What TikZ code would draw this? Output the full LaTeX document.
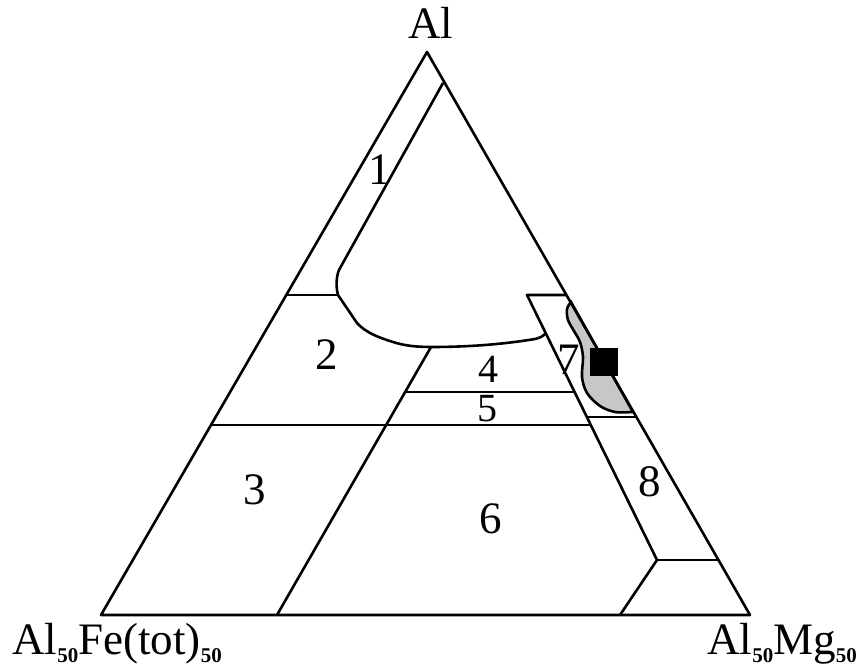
\documentclass[tikz,border=0pt]{standalone}
\usepackage{fontspec}
\setmainfont{Liberation Serif}
\newcommand\subfifty{\raisebox{-4pt}{\fontsize{10.5}{12}\selectfont\bfseries 50}}
\begin{document}
\begin{tikzpicture}[x=0.5pt,y=-0.5pt,
  edge/.style={line width=1.3pt, line join=round},
  lbl/.style={font=\fontsize{22.5}{24}\selectfont, inner sep=0pt, anchor=base},
  slbl/.style={font=\fontsize{20}{21}\selectfont, inner sep=0pt, anchor=base},
  blob/.style={line width=1.3pt, fill=black!22},
  marker/.style={fill=black, draw=black, line width=0.6pt}]
\useasboundingbox (0,0) rectangle (858,672);
% corners
\coordinate (A) at (427,52);
\coordinate (L) at (101,615);
\coordinate (R) at (750,615);
% region 1 / central field boundary
\draw[edge] (443,83) -- (339,270) .. controls (336,277) and (336,288) .. (338,295)
  -- (357,323) .. controls (366,333) and (380,338) .. (393,342)
  .. controls (405,346) and (418,347) .. (432,347)
  .. controls (470,347) and (505,344) .. (535,339)
  .. controls (540,338) and (543,336) .. (545,334);
\draw[edge] (286,295) -- (338,295);
% region 4/6 left boundary
\draw[edge] (431,347) -- (277,615);
\draw[edge] (404,392) -- (575,392);
\draw[edge] (211,425) -- (591,425);
% region 7/8 strip
\draw[edge] (566,295) -- (527,295) -- (657,560) -- (620,615);
\draw[edge] (657,560) -- (718,560);
\draw[edge] (587,417) -- (636,417);
% grey field
\draw[blob] plot[smooth, tension=0.55] coordinates {(571,302) (567,309) (568,320) (574,331) (580,342) (583,357) (582,377) (587,393) (600,406) (615,412) (633,412)} -- cycle;
% marker
\draw[marker] (591,349) rectangle (617,375);
% outer triangle
\draw[edge] (A) -- (L) -- (R) -- cycle;
% labels
\node[lbl] (tA) at (431,39) {Al};
\node[lbl, anchor=base west] (tL) at (12,655) {Al\subfifty Fe(tot)\subfifty};
\node[lbl, anchor=base west] (tR) at (707,655) {Al\subfifty Mg\subfifty};
\node[lbl] (n1) at (380,185) {1};
\node[lbl] (n2) at (327,370) {2};
\node[lbl] (n3) at (255,505) {3};
\node[slbl] (n4) at (488,383) {4};
\node[slbl] (n5) at (487,422) {5};
\node[lbl] (n6) at (491,534) {6};
\node[lbl] (n7) at (569,375) {7};
\node[lbl] (n8) at (650,497) {8};
\end{tikzpicture}
\end{document}
